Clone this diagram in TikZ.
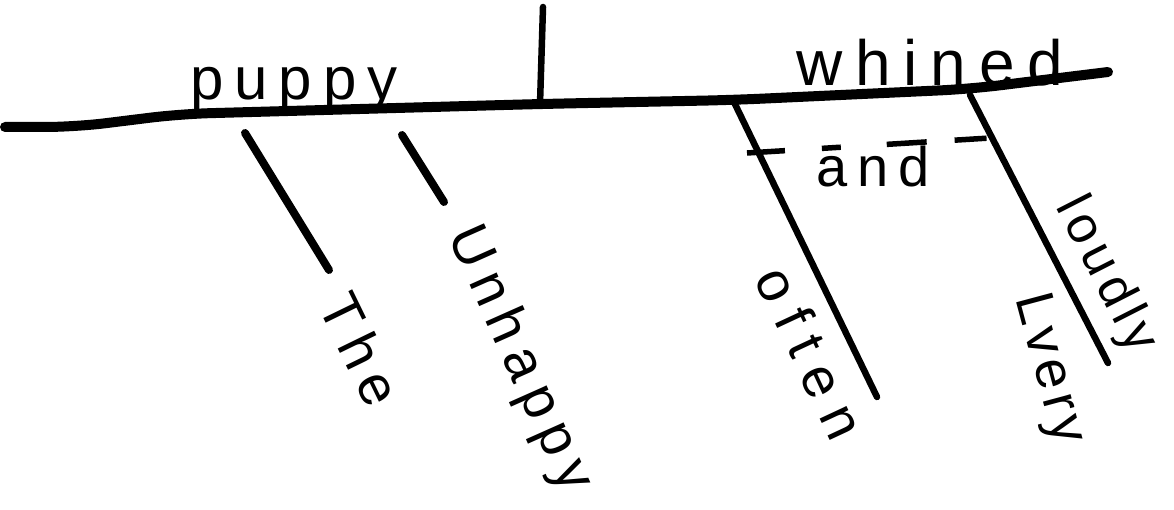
\documentclass[tikz,border=0pt]{standalone}
\usepackage{fontspec}
\setmainfont{Liberation Sans}
\begin{document}
\begin{tikzpicture}[x=1pt,y=-1pt,
  mainline/.style={line width=10pt, line cap=round, line join=round, rounded corners=30pt},
  modline/.style={line width=8pt, line cap=round},
  thinline/.style={line width=6.5pt, line cap=round},
  word/.style={inner sep=0pt},
  ws/.style 2 args={font={\fontsize{#1}{#1}\selectfont\addfontfeature{LetterSpace=#2}}}]
\useasboundingbox (0,0) rectangle (1174,510);
% baseline points
\coordinate (b0) at (5,127);
\coordinate (b1) at (75,127);
\coordinate (b2) at (180,114);
\coordinate (b3) at (540,104);
\coordinate (b4) at (733,100);
\coordinate (b5) at (970,89);
\coordinate (b6) at (1108,72);
\draw[mainline] (b0) -- (b1) -- (b2) -- (b3) -- (b4) -- (b5) -- (b6);
% divider
\coordinate (divTop) at (543,7);
\draw[thinline] (divTop) -- (b3);
% words on baseline
\node[word, ws={60}{18}, anchor=base] (puppy) at (294,100) {puppy};
\node[word, ws={64}{20}, anchor=base] (whined) at (930,86) {whined};
% modifier lines
\coordinate (theTop) at (245,133);
\coordinate (theEnd) at (329,270);
\coordinate (unTop) at (402,135);
\coordinate (unEnd) at (444,202);
\coordinate (oftTop) at (733,100);
\coordinate (oftEnd) at (877,397);
\coordinate (loudTop) at (970,95);
\coordinate (loudEnd) at (1108,363);
\draw[modline] (theTop) -- (theEnd);
\draw[modline] (unTop) -- (unEnd);
\draw[thinline] (oftTop) -- (oftEnd);
\draw[thinline] (loudTop) -- (loudEnd);
% conjunction
\coordinate (andL) at (747,153);
\coordinate (andR) at (990,138);
\draw[line width=5.5pt, dash pattern=on 38pt off 37pt on 19pt off 46pt on 40pt off 28pt on 32pt] (andL) -- (andR);
\node[word, ws={56}{17}, anchor=base] (and) at (873,187) {and};
% slanted words
\node[word, ws={56}{18}, anchor=mid, rotate=-64] (the) at (345,357) {The};
\node[word, ws={56}{18}, anchor=mid, rotate=-66] (unhappy) at (508,364) {Unhappy};
\node[word, ws={56}{26}, anchor=mid, rotate=-65] (often) at (795,360) {often};
\node[word, ws={52}{12}, anchor=mid, rotate=-63] (loudly) at (1096,280) {loudly};
\node[word, ws={54}{10}, anchor=mid, rotate=-75] (very) at (1038,372) {Lvery};
\end{tikzpicture}
\end{document}
